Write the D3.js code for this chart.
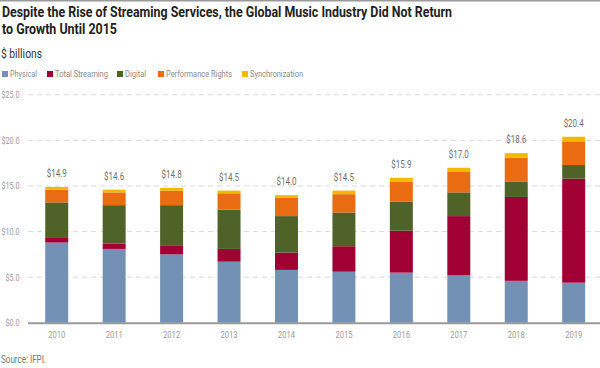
<!DOCTYPE html>
<html>
<head>
<meta charset="utf-8">
<script src="https://cdn.jsdelivr.net/npm/d3@7"></script>
<style>
  html, body { margin: 0; padding: 0; background: #fff; }
  svg { display: block; }
  text { font-family: Roboto, "Noto Sans", sans-serif; }
</style>
</head>
<body>
<svg id="chart" width="600" height="368"></svg>
<script>
const years = ["2010","2011","2012","2013","2014","2015","2016","2017","2018","2019"];
const seriesNames = ["Physical","Total Streaming","Digital","Performance Rights","Synchronization"];
const physical        = [8.8, 8.1, 7.5, 6.7, 5.8, 5.6, 5.5, 5.2, 4.6, 4.4];
const totalStreaming  = [0.5, 0.6, 1.0, 1.4, 1.9, 2.8, 4.6, 6.5, 9.2, 11.4];
const digital         = [3.9, 4.2, 4.4, 4.3, 4.0, 3.7, 3.2, 2.6, 1.7, 1.5];
const performance     = [1.4, 1.4, 1.6, 1.8, 2.0, 2.0, 2.2, 2.3, 2.6, 2.6];
const synchronization = [0.3, 0.3, 0.3, 0.3, 0.3, 0.4, 0.4, 0.4, 0.5, 0.5];
const totals          = ["$14.9","$14.6","$14.8","$14.5","$14.0","$14.5","$15.9","$17.0","$18.6","$20.4"];
const yTicks = [0, 5, 10, 15, 20, 25];
const colors = ["#7291b4", "#a00033", "#4f6228", "#e96b12", "#f5b800"];

const seriesValues = [physical, totalStreaming, digital, performance, synchronization];
const rows = years.map((y, i) => {
  const r = { year: y };
  seriesNames.forEach((s, k) => r[s] = seriesValues[k][i]);
  return r;
});

// condense text horizontally (reference uses a condensed face)
function squeeze(sel, factor) {
  sel.each(function() {
    const w = this.getComputedTextLength();
    d3.select(this).attr("textLength", w * factor).attr("lengthAdjust", "spacingAndGlyphs");
  });
}
function fitTo(sel, width) {
  sel.attr("textLength", width).attr("lengthAdjust", "spacingAndGlyphs");
}

const svg = d3.select("#chart");
const x = d3.scaleBand().domain(years).range([28, 602.4]).paddingInner(0.6).paddingOuter(0.3);
const y = d3.scaleLinear().domain([0, 25]).range([322.8, 94.8]);
const color = d3.scaleOrdinal().domain(seriesNames).range(colors);

// top rule
svg.append("line").attr("x1", 0).attr("x2", 600).attr("y1", 0.75).attr("y2", 0.75)
  .attr("stroke", "#9a9a9a").attr("stroke-width", 1.5);

// Title
svg.append("text").attr("x", 2).attr("y", 16.5)
  .attr("font-size", 15.5).attr("font-weight", "bold").attr("fill", "#222")
  .text("Despite the Rise of Streaming Services, the Global Music Industry Did Not Return")
  .call(fitTo, 450);
svg.append("text").attr("x", 2).attr("y", 33.5)
  .attr("font-size", 15.5).attr("font-weight", "bold").attr("fill", "#222")
  .text("to Growth Until 2015")
  .call(fitTo, 115);

svg.append("text").attr("x", 1).attr("y", 57.5).attr("font-size", 12.5).attr("fill", "#333")
  .text("$ billions").call(fitTo, 41);

// Legend
const legendX = [2, 47, 117, 158, 242];
const legendW = [27, 53, 21, 66, 53];
const lg = svg.append("g").selectAll("g").data(seriesNames).join("g")
  .attr("transform", (d, i) => `translate(${legendX[i]},74)`);
lg.append("rect").attr("x", 0).attr("y", -3).attr("width", 6).attr("height", 6).attr("fill", d => color(d));
lg.append("text").attr("x", 8).attr("y", 3.3).attr("font-size", 9).attr("fill", "#8a8a8a")
  .text(d => d).attr("textLength", (d, i) => legendW[i]).attr("lengthAdjust", "spacingAndGlyphs");

// Gridlines
svg.append("g").selectAll("line").data(yTicks.filter(t => t > 0)).join("line")
  .attr("x1", 28).attr("x2", 600).attr("y1", d => y(d)).attr("y2", d => y(d))
  .attr("stroke", "#d9d9d9").attr("stroke-width", 1).attr("stroke-dasharray", "5,4");

// Y axis
const yAxis = svg.append("g").attr("transform", "translate(19.5,0)")
  .call(d3.axisLeft(y).tickValues(yTicks).tickSize(0).tickPadding(0).tickFormat(d => "$" + d3.format(".1f")(d)));
yAxis.select(".domain").remove();
yAxis.selectAll("text").attr("font-size", 9).attr("fill", "#9a9a9a")
  .style("font-family", 'Roboto, "Noto Sans", sans-serif')
  .call(squeeze, 0.8);

// Stacked bars
const stack = d3.stack().keys(seriesNames);
const stacked = stack(rows);
svg.append("g").selectAll("g").data(stacked).join("g")
  .attr("fill", d => color(d.key))
  .selectAll("rect").data(d => d).join("rect")
  .attr("x", d => x(d.data.year)).attr("width", x.bandwidth())
  .attr("y", d => y(d[1])).attr("height", d => y(d[0]) - y(d[1]));

// Total labels
const tops = stacked[stacked.length - 1];
svg.append("g").selectAll("text").data(tops).join("text")
  .attr("x", d => x(d.data.year) + x.bandwidth() / 2)
  .attr("y", d => y(d[1]) - 10)
  .attr("text-anchor", "middle").attr("font-size", 10).attr("fill", "#707070")
  .text((d, i) => totals[i])
  .call(squeeze, 0.8);

// Baseline
svg.append("line").attr("x1", 28).attr("x2", 600).attr("y1", y(0) + 0.5).attr("y2", y(0) + 0.5)
  .attr("stroke", "#999").attr("stroke-width", 2);

// X axis
const xAxis = svg.append("g").attr("transform", `translate(0,${y(0) + 8.5})`)
  .call(d3.axisBottom(x).tickSize(0).tickPadding(0));
xAxis.select(".domain").remove();
xAxis.selectAll("text").attr("font-size", 9.5).attr("fill", "#9a9a9a")
  .style("font-family", 'Roboto, "Noto Sans", sans-serif')
  .call(squeeze, 0.8);

svg.append("text").attr("x", 1).attr("y", 362.5).attr("font-size", 10).attr("fill", "#777")
  .text("Source: IFPI.").call(fitTo, 45);
</script>
</body>
</html>
